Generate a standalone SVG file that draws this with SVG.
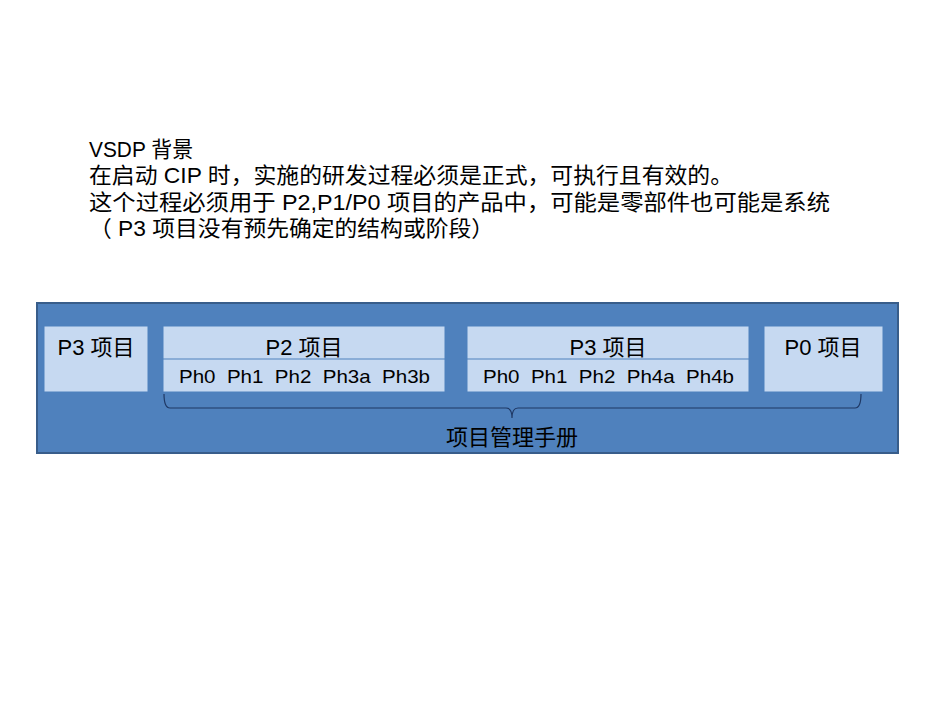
<svg xmlns="http://www.w3.org/2000/svg" width="950" height="713" viewBox="0 0 950 713">
<style>
text{font-family:"Liberation Sans","Noto Sans CJK SC",sans-serif;fill:#000}
.t{font-size:22px}
.b{fill:#c6d9f1;stroke:#4f81bd;stroke-width:1}
.n{font-size:22px;text-anchor:middle}
.ph{font-size:19px}
</style>
<rect width="950" height="713" fill="#fff"/>
<g id="intro">
<text class="t" x="89" y="157" textLength="104" lengthAdjust="spacingAndGlyphs">VSDP 背景</text>
<text class="t" x="89" y="183" textLength="644" lengthAdjust="spacingAndGlyphs">在启动 CIP 时，实施的研发过程必须是正式，可执行且有效的。</text>
<text class="t" x="89" y="210" textLength="741" lengthAdjust="spacingAndGlyphs">这个过程必须用于 P2,P1/P0 项目的产品中，可能是零部件也可能是系统</text>
<text class="t" x="89" y="236" textLength="405" lengthAdjust="spacingAndGlyphs">（ P3 项目没有预先确定的结构或阶段）</text>
</g>
<g id="frame"><rect x="37" y="303" width="861" height="150" fill="#4f81bd" stroke="#385d8a" stroke-width="2"/></g>
<g id="p3a"><rect class="b" x="44" y="326" width="104" height="66"/><text class="n" x="96" y="355">P3 项目</text></g>
<g id="p2"><rect class="b" x="163" y="326" width="282" height="66"/><line x1="163" y1="359" x2="445" y2="359" stroke="#4f81bd"/>
<text class="n" x="304" y="355">P2 项目</text><text class="ph" x="179" y="383" textLength="251" lengthAdjust="spacingAndGlyphs" xml:space="preserve">Ph0  Ph1  Ph2  Ph3a  Ph3b</text></g>
<g id="p3b"><rect class="b" x="467" y="326" width="282" height="66"/><line x1="467" y1="359" x2="749" y2="359" stroke="#4f81bd"/>
<text class="n" x="608" y="355">P3 项目</text><text class="ph" x="483" y="383" textLength="251" lengthAdjust="spacingAndGlyphs" xml:space="preserve">Ph0  Ph1  Ph2  Ph4a  Ph4b</text></g>
<g id="p0"><rect class="b" x="764" y="326" width="119" height="66"/><text class="n" x="823" y="355">P0 项目</text></g>
<g id="connectors"><path d="M164,394 Q164,408 170,408 L506,408 Q512,408 512,418 Q512,408 518,408 L855,408 Q861,408 861,394" fill="none" stroke="#1f3864" stroke-width="1.2"/></g>
<g id="manual"><text class="n" x="512" y="445" font-size="24">项目管理手册</text></g>
</svg>
